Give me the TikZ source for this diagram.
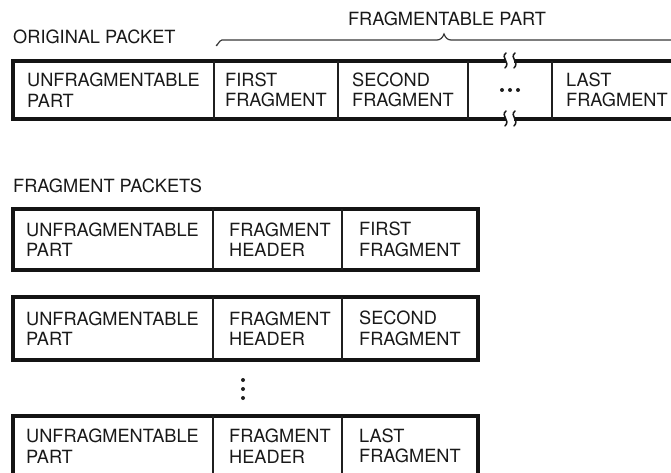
\documentclass[tikz,border=0pt]{standalone}
\usepackage{fontspec}
\setmainfont{TeX Gyre Heros}
\begin{document}
\begin{tikzpicture}[x=1pt,y=-1pt,
  lbl/.style={anchor=west,inner sep=0pt,align=left,text=black!90,font=\fontsize{18.2}{20.5}\selectfont},
  outer/.style={line width=3.4pt,draw=black!92},
  divider/.style={line width=1.5pt,draw=black!88},
  brace/.style={line width=1.2pt,draw=black!78},
  brk/.style={line width=1.5pt,draw=black!90,line cap=round},
  dotfill/.style={fill=black!88}]
\useasboundingbox (0,0) rectangle (671,473);
\clip (0,0) rectangle (671,473);

% ---------- original packet ----------
\node[lbl] (origlbl) at (13,37) {ORIGINAL PACKET};
\node[lbl,anchor=center] (fraglbl) at (447,19) {FRAGMENTABLE PART};
\draw[brace] (216,45) to[out=-80,in=180] (222,40) -- (437,40)
  to[out=0,in=-110] (444,34) to[out=-70,in=180] (451,40) -- (690,40);

\draw[outer] (690,61) -- (13,61) -- (13,119) -- (690,119);
\draw[divider] (214,61) -- (214,119);
\draw[divider] (338,61) -- (338,119);
\draw[divider] (468,61) -- (468,119);
\draw[divider] (552,61) -- (552,119);

% break marks
\foreach \yy in {61,119}{
  \fill[white] (506,\yy-3) rectangle (514,\yy+3);
  \draw[brk] (506,\yy-8) .. controls (500,\yy-3) and (511,\yy+1) .. (505,\yy+7);
  \draw[brk] (515,\yy-8) .. controls (509,\yy-3) and (520,\yy+1) .. (514,\yy+7);
}
\foreach \xx in {502,510,518} \fill[dotfill] (\xx,90) circle (2);

\node[lbl] (o1) at (27,90) {UNFRAGMENTABLE\\PART};
\node[lbl] (o2) at (225,90) {FIRST\\FRAGMENT};
\node[lbl] (o3) at (352,90) {SECOND\\FRAGMENT};
\node[lbl] (o4) at (566,90) {LAST\\FRAGMENT};

% ---------- fragment packets ----------
\node[lbl] (fplbl) at (13,186) {FRAGMENT PACKETS};

\foreach \top/\bot/\name/\third in {209/270/a/{FIRST\\FRAGMENT},297/360/b/{SECOND\\FRAGMENT},416/476/c/{LAST\\FRAGMENT}}{
  \draw[outer] (13,\top) rectangle (478,\bot);
  \draw[divider] (213,\top) -- (213,\bot);
  \draw[divider] (342,\top) -- (342,\bot);
  \node[lbl] (\name1) at (26,{(\top+\bot)/2}) {UNFRAGMENTABLE\\PART};
  \node[lbl] (\name2) at (229,{(\top+\bot)/2}) {FRAGMENT\\HEADER};
  \node[lbl] (\name3) at (359,{(\top+\bot)/2}) {\third};
}
\foreach \yy in {380,389,398} \fill[dotfill] (243,\yy) circle (2);
\end{tikzpicture}
\end{document}
